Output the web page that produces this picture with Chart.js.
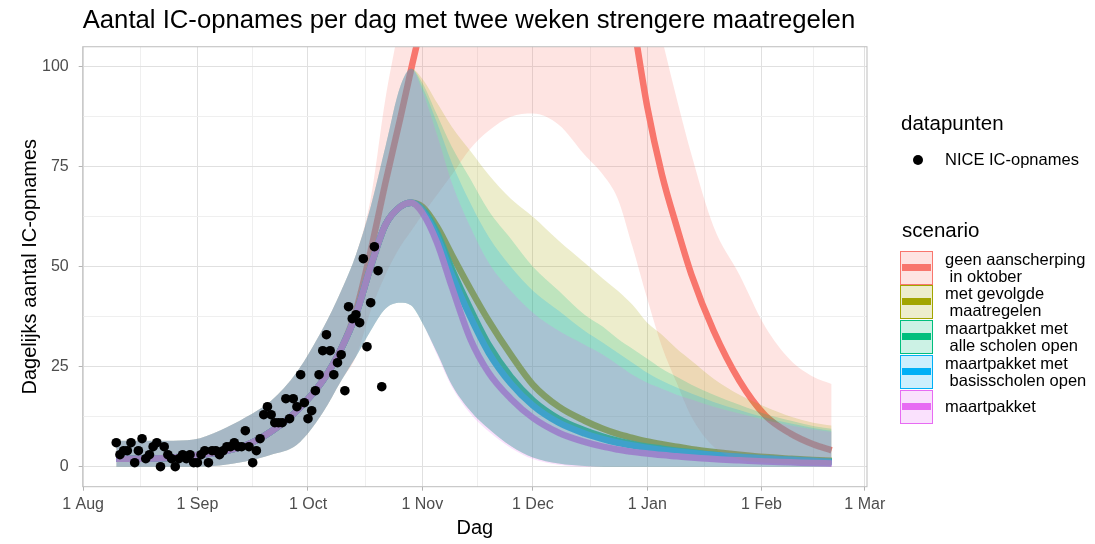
<!DOCTYPE html>
<html>
<head>
<meta charset="utf-8">
<script src="https://cdn.jsdelivr.net/npm/chart.js@4.4.1/dist/chart.umd.min.js"></script>
<style>
  body { margin: 0; background: #fff; font-family: "Liberation Sans", Arial, sans-serif; }
  #wrap { position: relative; width: 1095px; height: 544px; }
  #legend { position: absolute; left: 0; top: 0; }
  .ttl { position: absolute; font-size: 20.5px; color: #000; line-height: 24px; }
  .lbl { position: absolute; font-size: 16.5px; color: #000; line-height: 17px; white-space: pre; }
  .key { position: absolute; box-sizing: border-box; width: 33px; height: 34px; border: 1.5px solid; }
  .key i { position: absolute; left: 1px; right: 1px; top: 12px; height: 7px; }
  .dot { position: absolute; width: 10px; height: 10px; border-radius: 50%; background: #000; }
</style>
</head>
<body>
<div id="wrap">
  <canvas id="ctx" width="1095" height="544"></canvas>
  <div id="legend"></div>
</div>
<script>
// NICE dagelijkse IC-opnames, vanaf 10 aug
const niceStart = '2020-08-10'
const niceValues = [
  6, 3, 4, 4, 6, 1, 4, 7, 2, 3,
  5, 6, 0, 5, 3, 2, 0, 2, 3, 2,
  3, 1, 1, 3, 4, 1, 4, 4, 3, 4,
  5, 5, 6, 5, 5, 9, 5, 1, 4, 7,
  13, 15, 13, 11, 11, 11, 17, 12, 17, 15,
  23, 16, 12, 14, 19, 23, 29, 33, 29, 23,
  26, 28, 19, 40, 37, 38, 36, 52, 30, 41,
  55, 49, 20
]

// model dates
const modelDates = [
  '2020-08-10', '2020-08-17', '2020-08-24', '2020-08-31', '2020-09-07', '2020-09-14',
  '2020-09-21', '2020-09-28', '2020-10-05', '2020-10-10', '2020-10-14', '2020-10-18',
  '2020-10-22', '2020-10-26', '2020-10-29', '2020-11-01', '2020-11-05', '2020-11-09',
  '2020-11-14', '2020-11-19', '2020-11-25', '2020-12-01', '2020-12-08', '2020-12-15',
  '2020-12-20', '2020-12-24', '2020-12-28', '2021-01-01', '2021-01-05', '2021-01-09',
  '2021-01-13', '2021-01-19', '2021-01-26', '2021-02-02', '2021-02-09', '2021-02-15',
  '2021-02-20'
]

// geen aanscherping in oktober
const geenLine = [2.0, 2.0, 2.2, 2.8, 3.6, 5.3, 8.8, 14.0, 21.5, 29.5, 39, 54, 71, 87, 99.5,
  112, 135, 160, 185, 205, 215, 215, 200, 175, 150, 130, 112, 90, 73, 60, 48, 34, 21.5, 12.8, 8.2, 5.6, 4.1]
const geenLow = [0, 0, 0, 0, 0.3, 1.3, 3.0, 5.5, 13.5, 21.5, 27.5, 39, 48, 55, 59,
  63, 68, 73, 79.5, 84, 87.5, 88.3, 85.5, 78, 73, 67, 55, 42, 30, 21, 12.5, 5, 1.8, 1.0, 0.7, 0.5, 0.4]
const geenHigh = [6.5, 6.5, 6.5, 6.8, 9.0, 12.3, 16.5, 23.7, 34.5, 44, 53, 67, 92, 112, 130,
  150, 175, 200, 225, 245, 255, 255, 240, 215, 190, 165, 140, 122, 107, 92, 78, 60, 48, 35, 26.5, 22.5, 20.7]

// met gevolgde maatregelen
const gevolgdLine = [2.0, 2.0, 2.2, 2.8, 3.6, 5.3, 8.8, 14.0, 21.5, 29.5, 38, 50, 60.5, 65, 66,
  65, 60, 53, 44.5, 36.5, 28, 20.5, 15, 11.5, 9.5, 8.2, 7.2, 6.3, 5.6, 5.0, 4.4, 3.7, 3.0, 2.4, 2.0, 1.7, 1.5]
const gevolgdLow = [0, 0, 0, 0, 0.3, 1.3, 3.0, 5.5, 13.5, 21.5, 27.5, 34, 39.5, 41, 40.3,
  36, 28.5, 20.5, 14, 9.5, 5.2, 2.3, 0.8, 0.2, 0, 0, 0, 0, 0, 0, 0, 0, 0, 0, 0, 0, 0]
const gevolgdHigh = [6.5, 6.5, 6.5, 6.8, 9.0, 12.3, 16.5, 23.7, 34.5, 44, 53, 65, 80, 95, 99.5,
  97, 91, 85, 79, 73, 67, 62.5, 56.5, 51, 47, 44, 40.5, 36, 33, 29.5, 26.5, 22, 18, 15, 12.5, 11, 10.3]

// maartpakket met alle scholen open
const alleLine = [2.0, 2.0, 2.2, 2.8, 3.6, 5.3, 8.8, 14.0, 21.5, 29.5, 38, 50, 60.5, 65, 66,
  64.5, 58.5, 49.5, 39.5, 30.5, 22.5, 16.6, 12, 9.1, 7.5, 6.5, 5.7, 5.0, 4.5, 4.0, 3.6, 3.0, 2.5, 2.1, 1.8, 1.5, 1.3]
const alleLow = [0, 0, 0, 0, 0.3, 1.3, 3.0, 5.5, 13.5, 21.5, 27.5, 34, 39.5, 41, 40.3,
  36, 28.5, 20.5, 14, 9.5, 5.2, 2.3, 0.8, 0.2, 0, 0, 0, 0, 0, 0, 0, 0, 0, 0, 0, 0, 0]
const alleHigh = [6.5, 6.5, 6.5, 6.8, 9.0, 12.3, 16.5, 23.7, 34.5, 44, 53, 65, 80, 95, 99.5,
  96, 88, 80, 72, 64, 57, 50, 44, 38, 35, 32, 29.5, 27, 24.5, 22.5, 20.5, 18, 15.5, 13.2, 11.5, 10.2, 9.5]

// maartpakket met basisscholen open
const basisLine = [2.0, 2.0, 2.2, 2.8, 3.6, 5.3, 8.8, 14.0, 21.5, 29.5, 38, 50, 60.5, 65, 66,
  64, 57.5, 48, 37.5, 28.5, 20.8, 15.3, 11, 8.3, 6.9, 6.0, 5.3, 4.7, 4.2, 3.8, 3.4, 2.9, 2.4, 2.0, 1.7, 1.4, 1.2]
const basisLow = [0, 0, 0, 0, 0.3, 1.3, 3.0, 5.5, 13.5, 21.5, 27.5, 34, 39.5, 41, 40.3,
  36, 28.5, 20.5, 14, 9.5, 5.2, 2.3, 0.8, 0.2, 0, 0, 0, 0, 0, 0, 0, 0, 0, 0, 0, 0, 0]
const basisHigh = [6.5, 6.5, 6.5, 6.8, 9.0, 12.3, 16.5, 23.7, 34.5, 44, 53, 65, 80, 95, 99.5,
  95, 86, 76, 66, 57.5, 50, 44, 39, 34, 31, 28.5, 26, 23.5, 21.5, 19.8, 18.3, 16.2, 14.2, 12.3, 10.8, 9.7, 9.0]

// maartpakket
const maartLine = [2.0, 2.0, 2.2, 2.8, 3.6, 5.3, 8.8, 14.0, 21.5, 29.5, 38, 50, 60.5, 65, 66,
  63.5, 56, 45, 32, 23.5, 17, 12.2, 8.5, 6.2, 5.0, 4.3, 3.7, 3.3, 2.9, 2.6, 2.3, 1.9, 1.6, 1.3, 1.1, 0.9, 0.8]
const maartLow = [0, 0, 0, 0, 0.3, 1.3, 3.0, 5.5, 13.5, 21.5, 27.5, 34, 39.5, 41, 40.3,
  36, 28, 20, 13.3, 8.8, 4.7, 1.9, 0.5, 0, 0, 0, 0, 0, 0, 0, 0, 0, 0, 0, 0, 0, 0]
const maartHigh = [6.5, 6.5, 6.5, 6.8, 9.0, 12.3, 16.5, 23.7, 34.5, 44, 53, 65, 80, 95, 99.5,
  94, 83, 71, 60, 51, 44, 38.5, 34, 30.5, 28, 25.5, 23, 21, 19.5, 18, 16.8, 15, 13.3, 11.7, 10.3, 9.3, 8.7]

// axis
const monthTicks = ['2020-08-01', '2020-09-01', '2020-10-01', '2020-11-01', '2020-12-01', '2021-01-01', '2021-02-01', '2021-03-01']
const monthLabels = ['1 Aug', '1 Sep', '1 Oct', '1 Nov', '1 Dec', '1 Jan', '1 Feb', '1 Mar']
const yTicks = [0, 25, 50, 75, 100]

const scenarios = [
  {label: 'geen aanscherping\n in oktober', color: '#F8766D', line: geenLine, low: geenLow, high: geenHigh},
  {label: 'met gevolgde\n maatregelen', color: '#A3A500', line: gevolgdLine, low: gevolgdLow, high: gevolgdHigh},
  {label: 'maartpakket met\n alle scholen open', color: '#00BF7D', line: alleLine, low: alleLow, high: alleHigh},
  {label: 'maartpakket met\n basisscholen open', color: '#00B0F6', line: basisLine, low: basisLow, high: basisHigh},
  {label: 'maartpakket', color: '#E76BF3', line: maartLine, low: maartLow, high: maartHigh},
]

const day0 = Date.parse('2020-08-01')
const toDay = s => (Date.parse(s) - day0) / 864e5
const rgba = (hex, a) => {
  const n = parseInt(hex.slice(1), 16)
  return `rgba(${n >> 16}, ${(n >> 8) & 255}, ${n & 255}, ${a})`
}

const xs = modelDates.map(toDay)
const pts = arr => arr.map((y, i) => ({x: xs[i], y}))

const datasets = [{
  label: 'NICE IC-opnames',
  data: niceValues.map((y, i) => ({x: toDay(niceStart) + i, y})),
  showLine: false,
  pointRadius: 4.8,
  pointBorderWidth: 0,
  pointBackgroundColor: '#000',
  order: 0,
}]

scenarios.forEach((s, k) => {
  datasets.push({data: pts(s.high), borderWidth: 0, pointRadius: 0, fill: false, order: 5 - k})
  datasets.push({data: pts(s.low), borderWidth: 0, pointRadius: 0, fill: '-1',
    backgroundColor: rgba(s.color, 0.2), order: 5 - k})
  datasets.push({data: pts(s.line), borderColor: s.color, borderWidth: 6.5, pointRadius: 0,
    fill: false, order: 15 - k, clip: 0})
})

const majorX = monthTicks.map(toDay)
const xTickVals = []
majorX.forEach((v, i) => {
  xTickVals.push(v)
  if (i < majorX.length - 1) xTickVals.push((v + majorX[i + 1]) / 2)
})
const yTickVals = []
yTicks.forEach((v, i) => {
  yTickVals.push(v)
  if (i < yTicks.length - 1) yTickVals.push((v + yTicks[i + 1]) / 2)
})

const panelBorder = {
  id: 'panelBorder',
  afterDatasetsDraw: (chart) => {
    const {ctx} = chart
    const {left, top, right, bottom} = chart.chartArea
    ctx.save()
    ctx.strokeStyle = '#bdbdbd'
    ctx.lineWidth = 1
    ctx.strokeRect(left, top, right - left, bottom - top)
    ctx.restore()
  }
}

const isMajorX = v => majorX.includes(v)
const isMajorY = v => yTicks.includes(v)

new Chart(document.getElementById('ctx'), {
  type: 'line',
  data: {datasets},
  options: {
    responsive: false,
    animation: false,
    events: [],
    layout: {padding: {left: 0, right: 228, top: 0, bottom: 0}},
    elements: {line: {cubicInterpolationMode: 'monotone', capBezierPoints: false}},
    plugins: {
      legend: {display: false},
      tooltip: {enabled: false},
      title: {
        display: true,
        text: 'Aantal IC-opnames per dag met twee weken strengere maatregelen',
        align: 'start',
        fullSize: false,
        color: '#000',
        font: {family: 'Liberation Sans', size: 25.7, weight: 'normal'},
        padding: {top: 5.8, bottom: 10.1},
      },
    },
    scales: {
      x: {
        type: 'linear',
        min: -0.1,
        max: 212.6,
        afterFit: (scale) => { scale.height = 57.3 },
        afterBuildTicks: (scale) => { scale.ticks = xTickVals.map(v => ({value: v})) },
        ticks: {
          autoSkip: false,
          maxRotation: 0,
          padding: 4.7,
          color: '#4d4d4d',
          font: {family: 'Liberation Sans', size: 16},
          callback: (v) => { const i = majorX.indexOf(v); return i >= 0 ? monthLabels[i] : '' },
        },
        grid: {
          color: (c) => c.tick && isMajorX(c.tick.value) ? '#e0e0e0' : '#efefef',
          tickColor: (c) => c.tick && isMajorX(c.tick.value) ? '#b3b3b3' : 'rgba(0,0,0,0)',
          tickLength: 4,
        },
        border: {display: false},
        title: {display: true, text: 'Dag', color: '#000',
          font: {family: 'Liberation Sans', size: 20}, padding: {top: 0, bottom: 4}},
      },
      y: {
        min: -5,
        max: 105,
        afterFit: (scale) => { scale.width = 82.7 },
        afterBuildTicks: (scale) => { scale.ticks = yTickVals.map(v => ({value: v})) },
        ticks: {
          autoSkip: false,
          padding: 10,
          color: '#4d4d4d',
          font: {family: 'Liberation Sans', size: 16},
          callback: (v) => isMajorY(v) ? String(v) : '',
        },
        grid: {
          color: (c) => c.tick && isMajorY(c.tick.value) ? '#e0e0e0' : '#efefef',
          tickColor: (c) => c.tick && isMajorY(c.tick.value) ? '#b3b3b3' : 'rgba(0,0,0,0)',
          tickLength: 4,
        },
        border: {display: false},
        title: {display: true, text: 'Dagelijks aantal IC-opnames', color: '#000',
          font: {family: 'Liberation Sans', size: 20}, padding: {top: 18, bottom: 0}},
      },
    },
  },
  plugins: [panelBorder]
})

// legend, ggplot style
const $legend = document.getElementById('legend')
let html = ''
html += '<div class="ttl" style="left:901px;top:111px">datapunten</div>'
html += '<div class="dot" style="left:913px;top:155px"></div>'
html += '<div class="lbl" style="left:945px;top:151px">NICE IC-opnames</div>'
html += '<div class="ttl" style="left:902px;top:218px">scenario</div>'
scenarios.forEach((s, k) => {
  const top = 250.5 + k * 34.8
  html += `<div class="key" style="left:900px;top:${top}px;border-color:${s.color};background:${rgba(s.color, 0.2)}"><i style="background:${s.color}"></i></div>`
  const lines = s.label.split('\n').length
  html += `<div class="lbl" style="left:945px;top:${top + 17 - lines * 8.5}px">${s.label}</div>`
})
$legend.innerHTML = html
</script>
</body>
</html>
